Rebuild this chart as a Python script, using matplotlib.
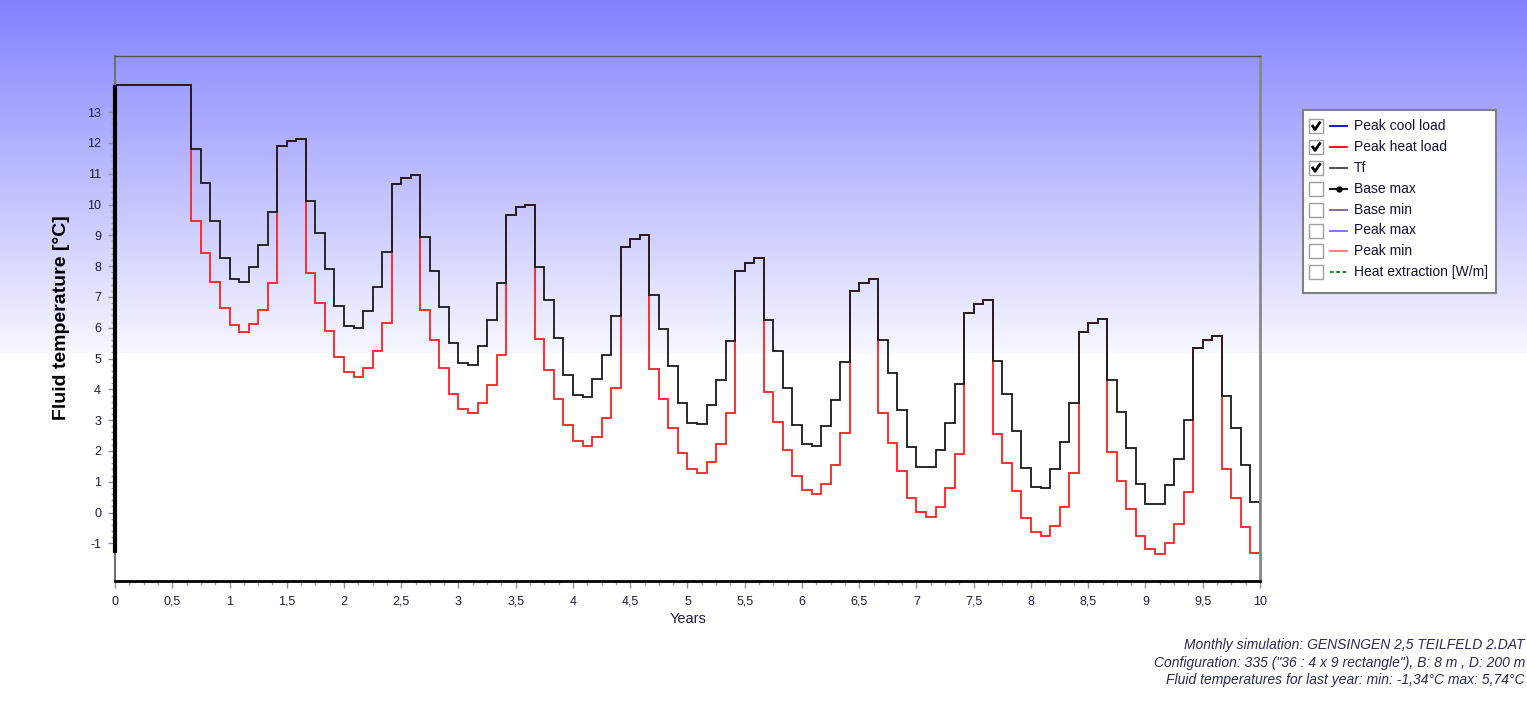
import numpy as np
import matplotlib
matplotlib.use("Agg")
import matplotlib.pyplot as plt
from matplotlib.patches import Rectangle
from matplotlib.ticker import MultipleLocator, FixedLocator, FuncFormatter, NullFormatter

plt.rcParams['font.family'] = ['Liberation Sans', 'DejaVu Sans']

# monthly fluid temperatures over 10 years (120 months)
tf = [13.88, 13.88, 13.88, 13.88, 13.88, 13.88, 13.88, 13.88,
      11.80, 10.69, 9.46, 8.27, 7.57, 7.49, 7.98, 8.69, 9.75, 11.91, 12.06, 12.14,
      10.12, 9.09, 7.90, 6.70, 6.05, 5.99, 6.53, 7.33, 8.47, 10.68, 10.87, 10.96,
      8.93, 7.85, 6.66, 5.51, 4.85, 4.80, 5.42, 6.26, 7.44, 9.66, 9.92, 10.00,
      7.98, 6.91, 5.67, 4.47, 3.81, 3.74, 4.35, 5.13, 6.38, 8.63, 8.89, 9.01,
      7.05, 5.96, 4.76, 3.56, 2.91, 2.87, 3.49, 4.32, 5.56, 7.85, 8.11, 8.25,
      6.25, 5.23, 4.04, 2.83, 2.22, 2.17, 2.80, 3.64, 4.90, 7.19, 7.45, 7.57,
      5.59, 4.52, 3.33, 2.13, 1.47, 1.47, 2.04, 2.91, 4.18, 6.49, 6.76, 6.91,
      4.93, 3.85, 2.66, 1.46, 0.83, 0.80, 1.43, 2.29, 3.56, 5.87, 6.16, 6.29,
      4.32, 3.28, 2.09, 0.94, 0.27, 0.27, 0.88, 1.74, 2.99, 5.33, 5.59, 5.74,
      3.77, 2.74, 1.56, 0.36]

peak_heat = [13.88, 13.88, 13.88, 13.88, 13.88, 13.88, 13.88, 13.88,
             9.46, 8.44, 7.50, 6.63, 6.08, 5.87, 6.12, 6.58, 7.45, 11.91, 12.06, 12.14,
             7.77, 6.81, 5.90, 5.04, 4.56, 4.39, 4.69, 5.23, 6.16, 10.68, 10.87, 10.96,
             6.57, 5.59, 4.69, 3.85, 3.37, 3.24, 3.57, 4.15, 5.13, 9.66, 9.92, 10.00,
             5.62, 4.64, 3.69, 2.83, 2.32, 2.17, 2.46, 3.08, 4.06, 8.63, 8.89, 9.01,
             4.65, 3.69, 2.74, 1.92, 1.43, 1.30, 1.63, 2.22, 3.24, 7.85, 8.11, 8.25,
             3.90, 2.95, 2.04, 1.18, 0.73, 0.60, 0.93, 1.56, 2.58, 7.19, 7.45, 7.57,
             3.23, 2.26, 1.35, 0.48, 0.03, -0.14, 0.19, 0.80, 1.89, 6.49, 6.76, 6.91,
             2.55, 1.60, 0.69, -0.17, -0.64, -0.76, -0.44, 0.19, 1.27, 5.87, 6.16, 6.29,
             1.96, 1.02, 0.11, -0.75, -1.19, -1.34, -0.98, -0.36, 0.68, 5.33, 5.59, 5.74,
             1.43, 0.48, -0.47, -1.30]

months_per_year = 12
y_ticks = list(range(-1, 14))
x_ticks = [i * 0.5 for i in range(21)]

legend_labels = ["Peak cool load", "Peak heat load", "Tf", "Base max", "Base min",
                 "Peak max", "Peak min", "Heat extraction [W/m]"]
legend_checked = [True, True, True, False, False, False, False, False]
legend_colors = ["#0000ff", "#ff0000", "#404040", "#000000", "#806090",
                 "#7070ff", "#ff7070", "#008000"]

info_lines = ["Monthly simulation: GENSINGEN 2,5 TEILFELD 2.DAT",
              "Configuration: 335 (\"36 : 4 x 9 rectangle\"), B: 8 m , D: 200 m",
              "Fluid temperatures for last year: min: -1,34°C max: 5,74°C"]

W, H = 1527, 713
fig = plt.figure(figsize=(W / 100, H / 100), dpi=100)

# blue-to-white background gradient on the upper half
bg = fig.add_axes([0, 0, 1, 1], zorder=-10)
rows = np.arange(H)
c = np.where(rows < 353, (130 + 118 * rows / 353) / 255, 1.0)
img = np.stack([c, c, np.ones_like(c)], axis=1)[:, None, :]
bg.imshow(img, aspect='auto', extent=[0, 1, 0, 1], origin='upper')
bg.axis('off')

# main chart
ax = fig.add_axes([115 / W, 1 - 581 / H, (1260 - 115) / W, (581 - 56) / H])
ax.set_facecolor('none')
edges = np.arange(len(tf) + 1) / months_per_year
ax.stairs(peak_heat, edges, color='#ff2020', lw=1.3)
ax.stairs(tf, edges, color='#1a1a1a', lw=1.3)
ax.plot([0, 0], [peak_heat[-1], tf[0]], color='black', lw=3,
        solid_capstyle='butt', clip_on=False, zorder=5)

ax.set_xlim(0, 10)
ax.set_ylim(-2.22, 14.82)

fmt = FuncFormatter(lambda v, p: f"{v:g}".replace('.', ','))
ax.xaxis.set_major_locator(FixedLocator(x_ticks))
ax.xaxis.set_minor_locator(MultipleLocator(0.125))
ax.xaxis.set_major_formatter(NullFormatter())
ax.yaxis.set_major_locator(FixedLocator(y_ticks))
ax.yaxis.set_minor_locator(FixedLocator(np.arange(-1, 13.9, 0.2)))
ax.yaxis.set_major_formatter(fmt)

ax.tick_params(which='major', length=5, width=1, color='#909090', labelsize=9,
               labelcolor='#1c1c3c', direction='out')
ax.tick_params(which='minor', length=3, width=1, color='#a0a0a0', direction='out')
ax.tick_params(axis='y', which='major', pad=5)

# x tick labels drawn on a common baseline
xt = ax.get_xaxis_transform()
for v in x_ticks:
    ax.text(v, -0.045, fmt(v, None), transform=xt, ha='center', va='baseline',
            fontsize=9, color='#1c1c3c', clip_on=False)

ax.spines['top'].set_color('#505050')
ax.spines['top'].set_linewidth(1)
ax.spines['right'].set_color('#888888')
ax.spines['right'].set_linewidth(2)
ax.spines['bottom'].set_color('black')
ax.spines['bottom'].set_linewidth(2)
ax.spines['left'].set_color('#707070')
ax.spines['left'].set_linewidth(1.5)

fig.text(62 / W, 1 - 318 / H, "Fluid temperature [°C]", rotation=90,
         ha='center', va='center', fontsize=14, fontweight='bold', color='black')
fig.text(688 / W, 1 - 619 / H, "Years", ha='center', va='center',
         fontsize=10.5, color='#1c1c3c')

# legend with check boxes
lx0, ly0, lw_, lh_ = 1303, 110, 193, 183
lg = fig.add_axes([lx0 / W, 1 - (ly0 + lh_) / H, lw_ / W, lh_ / H])
lg.set_xlim(0, lw_)
lg.set_ylim(lh_, 0)
lg.set_facecolor('white')
lg.set_xticks([])
lg.set_yticks([])
for s in lg.spines.values():
    s.set_color('#808080')
    s.set_linewidth(1.5)
for i, (lab, chk, col) in enumerate(zip(legend_labels, legend_checked, legend_colors)):
    y = 16 + i * 20.9
    lg.add_patch(Rectangle((6, y - 7), 14, 14, facecolor='white',
                           edgecolor='#a0a0a0', lw=1))
    if chk:
        lg.plot([9, 12, 17.5], [y - 1, y + 3.5, y - 4.5], color='black', lw=2,
                solid_capstyle='butt')
    ls = (0, (2, 1.5)) if i == 7 else '-'
    lg.plot([27, 44], [y, y], color=col, lw=1.3, linestyle=ls)
    if i == 3:
        lg.plot([35.5], [y], marker='o', markersize=3.5, color=col)
    lg.text(51, y, lab, fontsize=10, va='center', ha='left', color='#101030')

# simulation info, bottom right
for i, line in enumerate(info_lines):
    fig.text(1525 / W, 1 - (645 + i * 17.5) / H, line, ha='right', va='center',
             style='italic', fontsize=10, color='#2a2a50')

fig.savefig("out.png", dpi=100)
